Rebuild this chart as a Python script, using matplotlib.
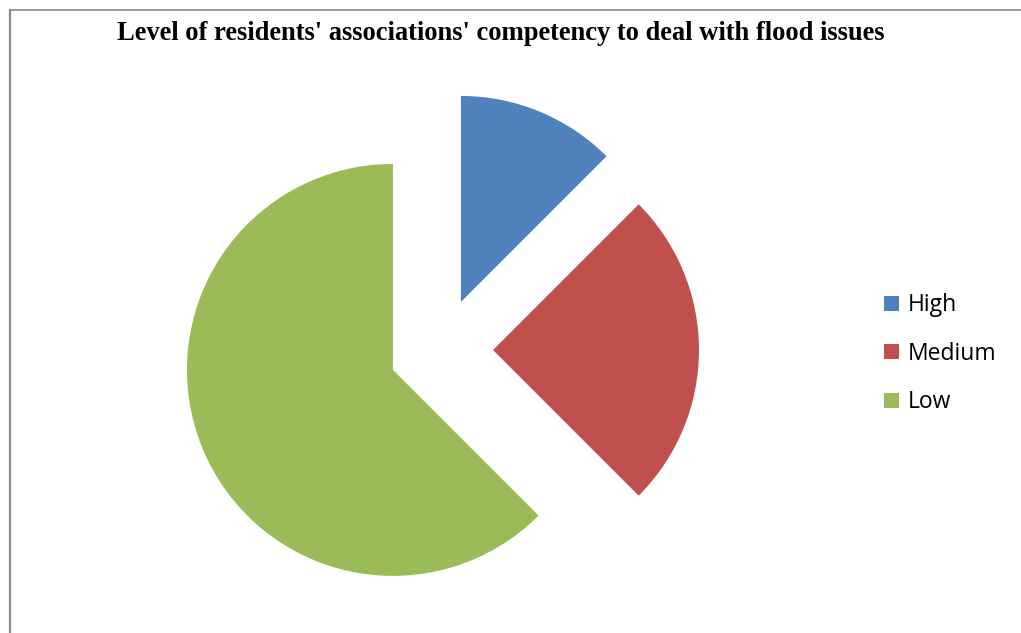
import matplotlib
matplotlib.use("Agg")
import matplotlib.pyplot as plt
from matplotlib.patches import Patch
from matplotlib.lines import Line2D

# Data
categories = ["High", "Medium", "Low"]
shares = [12.5, 25.0, 62.5]
colors = ["#4F81BD", "#C0504D", "#9BBB59"]
title = "Level of residents' associations' competency to deal with flood issues"

W, H = 1021, 633
fig = plt.figure(figsize=(W / 100, H / 100), dpi=100)
ax = fig.add_axes([0, 0, 1, 1])
ax.set_xlim(0, W)
ax.set_ylim(0, H)
ax.set_aspect("equal")
ax.axis("off")

radius = 206
offset = 52
ax.pie(shares, colors=colors, startangle=90, counterclock=False,
       center=(441, H - 350), radius=radius,
       explode=[offset] * len(shares),
       wedgeprops=dict(linewidth=0))
ax.set_xlim(0, W)
ax.set_ylim(0, H)

# chart-area frame (left and top edges visible)
frame_col = "#898989"
ax.add_line(Line2D([10, 10], [H - 10, -5], color=frame_col, lw=1.6))
ax.add_line(Line2D([10, W + 5], [H - 10, H - 10], color=frame_col, lw=1.2))

fig.text(501 / W, 1 - 33 / H, title, ha="center", va="center",
         family="Liberation Serif", weight="bold", fontsize=19.1)

handles = [Patch(facecolor=c, edgecolor="none") for c in colors]
leg = fig.legend(handles, categories, loc="upper left",
                 bbox_to_anchor=(866 / W, 1 - 275 / H), frameon=False,
                 prop=dict(family="Open Sans", size=16.5),
                 handlelength=0.64, handleheight=0.64, handletextpad=0.36,
                 labelspacing=1.07, borderpad=0.3)

fig.savefig("out.png", dpi=100)
